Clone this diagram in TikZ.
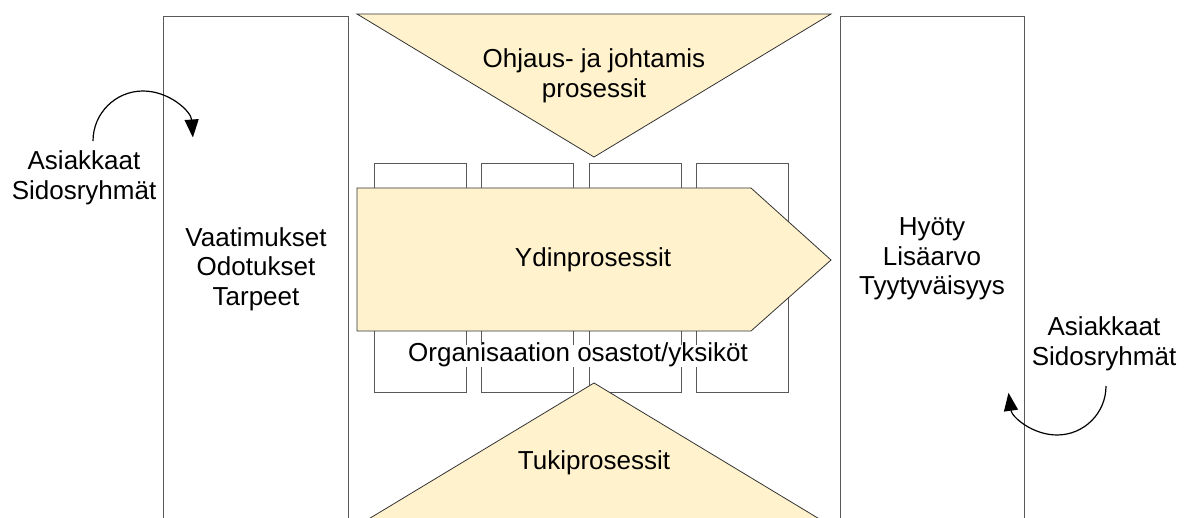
\documentclass[tikz,border=0pt]{standalone}
\usepackage{fontspec}
\setmainfont{Liberation Sans}
\usetikzlibrary{arrows.meta}
\definecolor{procfill}{HTML}{FFF2CC}
\definecolor{edgegray}{HTML}{595959}
\tikzset{
  lbl/.style={font=\fontsize{26}{29.5}\selectfont, align=center, inner sep=0pt},
  colbox/.style={draw=edgegray, line width=1.1pt, fill=white, anchor=north west, inner sep=0pt},
  deptbox/.style={draw=edgegray, line width=1pt, fill=white, anchor=north west, inner sep=0pt,
                  minimum width=92pt, minimum height=229pt},
  proc/.style={draw=black!80, line width=0.8pt, fill=procfill},
  cycle arrow/.style={line width=1.2pt, -{Triangle[length=18pt,width=14pt]}}
}
\begin{document}
\begin{tikzpicture}[x=1pt,y=-1pt]
\useasboundingbox (0,0) rectangle (1194,518);
\clip (0,0) rectangle (1194,518);

% input and output columns
\node[colbox, minimum width=185pt, minimum height=540pt] (inbox) at (163,16) {};
\node[colbox, minimum width=184pt, minimum height=540pt] (outbox) at (840,16) {};
\node[lbl] (needs) at (256,269) {Vaatimukset\\Odotukset\\Tarpeet};
\node[lbl] (value) at (932,259) {Hyöty\\Lisäarvo\\Tyytyväisyys};

% departments
\node[deptbox] (d1) at (374,163) {};
\node[deptbox] (d2) at (481,163) {};
\node[deptbox] (d3) at (589,163) {};
\node[deptbox] (d4) at (696,163) {};

% management processes (top)
\draw[proc] (357,14) -- (831,14) -- (594,157) -- cycle;
\node[lbl] (mgmt) at (594,76) {Ohjaus- ja johtamis\\prosessit};

% core processes (arrow shape)
\draw[proc] (357,188) -- (751,188) -- (831,260) -- (751,331) -- (357,331) -- cycle;
\node[lbl] (core) at (593,260) {Ydinprosessit};

% department caption with white backing
\node[lbl, fill=white, inner xsep=2pt, inner ysep=0pt, text height=17pt, text depth=5pt] (units) at (578,356) {Organisaation osastot/yksiköt};

% support processes (bottom)
\draw[proc] (594,383) -- (831,526) -- (357,526) -- cycle;
\node[lbl] (support) at (594,463) {Tukiprosessit};

% customers / stakeholders
\node[lbl] (custin) at (84,178) {Asiakkaat\\Sidosryhmät};
\node[lbl] (custout) at (1104,344) {Asiakkaat\\Sidosryhmät};

% feedback loops
\coordinate (ainstart) at (93,141);
\coordinate (aoutstart) at (1106,386);
\draw[cycle arrow] (ainstart) arc[start angle=180, end angle=356, radius=50];
\draw[cycle arrow] (aoutstart) arc[start angle=0, end angle=172, radius=49];
\end{tikzpicture}
\end{document}
